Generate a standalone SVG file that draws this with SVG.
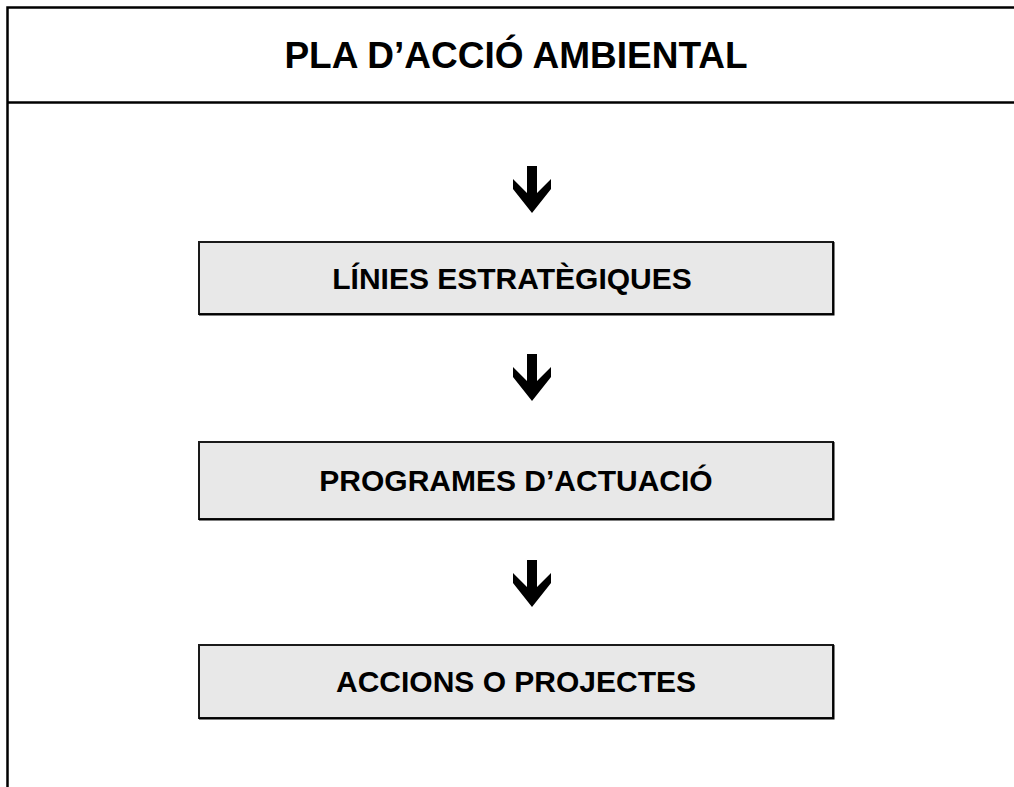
<svg xmlns="http://www.w3.org/2000/svg" width="1014" height="787" viewBox="0 0 1014 787">
<defs>
<style>
.frame{fill:none;stroke:#000;stroke-width:2.5}
.box{fill:#e8e8e8;stroke:#1a1a1a;stroke-width:2}
.shadow{fill:none;stroke:#000;stroke-width:2}
.lbl{font-family:"Liberation Sans",Arial,sans-serif;font-weight:bold;font-size:30px;fill:#000;text-anchor:middle}
.title{font-family:"Liberation Sans",Arial,sans-serif;font-weight:bold;font-size:37px;fill:#000;text-anchor:middle}
.arr{fill:#000}
</style>
<polygon id="arrowShape" points="-5,0 5,0 5,27 19,13 19,23 0,47 -19,23 -19,13 -5,27"/>
</defs>
<rect width="1014" height="787" fill="#fff"/>
<g id="frame">
<path class="frame" d="M1014,7.5 H7.5 V787"/>
<line class="frame" x1="7.5" y1="102.5" x2="1014" y2="102.5"/>
<text class="title" x="516" y="68">PLA D’ACCIÓ AMBIENTAL</text>
</g>
<g id="connectors">
<use href="#arrowShape" class="arr" x="532" y="166"/>
<use href="#arrowShape" class="arr" x="532" y="354"/>
<use href="#arrowShape" class="arr" x="532" y="560"/>
</g>
<g id="node-linies">
<rect class="box" x="199" y="242" width="634" height="72"/>
<path class="shadow" d="M833.5,242 V314.5 H199"/>
<text class="lbl" x="512" y="289">LÍNIES ESTRATÈGIQUES</text>
</g>
<g id="node-programes">
<rect class="box" x="199" y="442" width="634" height="77"/>
<path class="shadow" d="M833.5,442 V519.5 H199"/>
<text class="lbl" x="516" y="491">PROGRAMES D’ACTUACIÓ</text>
</g>
<g id="node-accions">
<rect class="box" x="199" y="645" width="634" height="73"/>
<path class="shadow" d="M833.5,645 V718.5 H199"/>
<text class="lbl" x="516" y="692">ACCIONS O PROJECTES</text>
</g>
</svg>
